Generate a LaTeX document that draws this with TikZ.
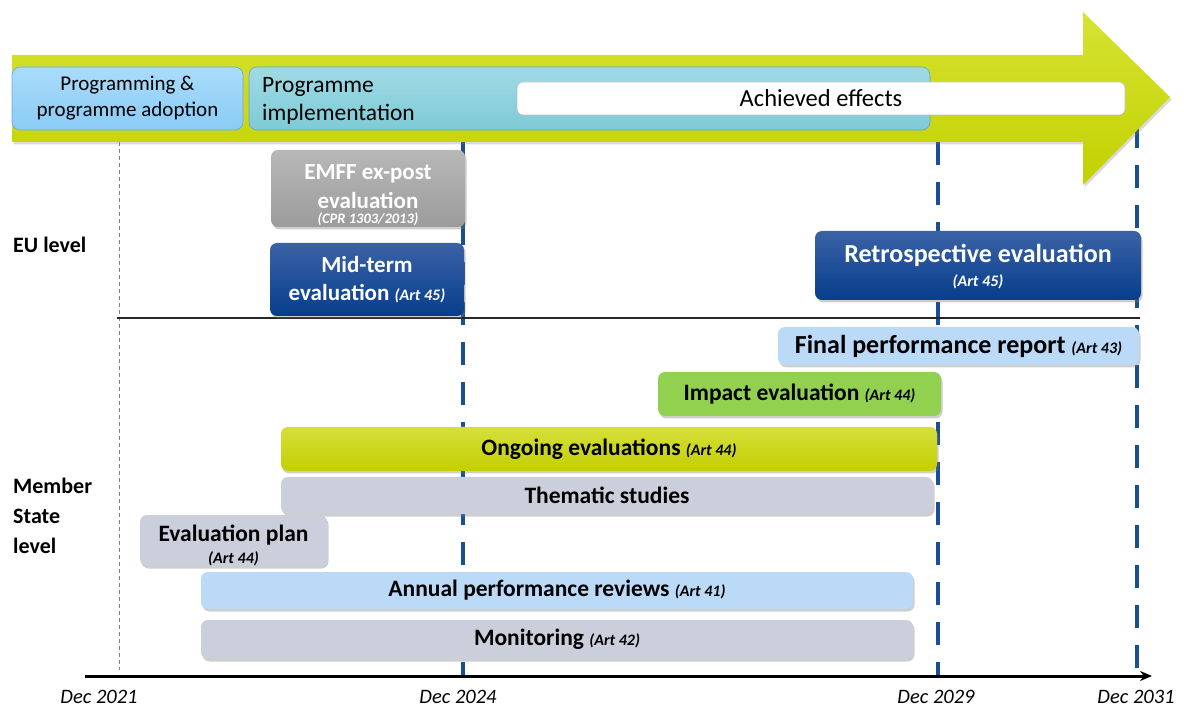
\documentclass[tikz,border=0pt]{standalone}
\usepackage{fontspec}
\setmainfont{Carlito}
\usetikzlibrary{shadows,arrows.meta}
\definecolor{dashblue}{HTML}{1B4F94}
\definecolor{darkblueT}{HTML}{3B62A6}
\definecolor{darkblueB}{HTML}{063E8C}
\definecolor{lightblue}{HTML}{BBDAF8}
\definecolor{greenbox}{HTML}{92D050}
\definecolor{ongoingT}{HTML}{D5DF3C}
\definecolor{ongoingB}{HTML}{C3CF00}
\definecolor{graybox}{HTML}{CBCFDB}
\definecolor{emffT}{HTML}{B8B8B8}
\definecolor{emffB}{HTML}{9B9B9B}
\definecolor{arrowT}{HTML}{D6E333}
\definecolor{arrowB}{HTML}{C2D100}
\definecolor{progT}{HTML}{A9DCFB}
\definecolor{progB}{HTML}{8ACBF5}
\definecolor{implT}{HTML}{A0DAE4}
\definecolor{implB}{HTML}{7DCBD7}
\tikzset{
  bar/.style={rounded corners=7pt, inner sep=0pt, align=center,
    drop shadow={shadow xshift=1.5pt, shadow yshift=-2.5pt, opacity=.35, fill=black!55}},
  bluebar/.style={bar, top color=darkblueT, bottom color=darkblueB, text=white},
  lbbar/.style={bar, fill=lightblue},
  graybar/.style={bar, fill=graybox},
  lbl/.style={font=\bfseries\fontsize{23.5}{26}\selectfont},
  art/.style={font=\bfseries\itshape\fontsize{16}{17}\selectfont},
  datelbl/.style={font=\itshape\fontsize{20.5}{22}\selectfont, inner sep=0pt},
  vdash/.style={line width=4.5pt, dashblue, dash pattern=on 23pt off 17pt},
}
\newcommand{\artl}[1]{{\bfseries\itshape\fontsize{16}{17}\selectfont #1}}
\begin{document}
\begin{tikzpicture}[x=1pt,y=-1pt]
\useasboundingbox (0,0) rectangle (1184,708);
% vertical dashed reference lines
\coordinate (v1t) at (463,142); \coordinate (v1b) at (463,676);
\coordinate (v2t) at (938,142); \coordinate (v2b) at (938,676);
\coordinate (v3t) at (1137,125); \coordinate (v3b) at (1137,676);
\draw[vdash] (v1t) -- (v1b);
\draw[vdash] (v2t) -- (v2b);
\draw[vdash] (v3t) -- (v3b);
\coordinate (g1t) at (119,142); \coordinate (g1b) at (119,670);
\draw[gray, line width=0.6pt, dash pattern=on 4pt off 3pt] (g1t) -- (g1b);
% big arrow
\path[drop shadow={shadow xshift=1.5pt, shadow yshift=-2.5pt, opacity=.3, fill=black!50},
  top color=arrowT, bottom color=arrowB]
  (12,55) -- (1083,55) -- (1083,12) -- (1170,97) -- (1083,185) -- (1083,142) -- (12,142) -- cycle;
% phase boxes
\node[rounded corners=8pt, top color=progT, bottom color=progB, draw=progB!80!blue, line width=0.6pt,
  minimum width=231pt, minimum height=63pt, inner sep=0pt, align=center,
  font=\fontsize{21}{26}\selectfont] (prog) at (127.5,98.5) {Programming \&\\programme adoption};
\node[rounded corners=8pt, top color=implT, bottom color=implB, draw=implB!80!blue, line width=0.6pt,
  minimum width=681pt, minimum height=63pt, inner sep=0pt] (impl) at (589.5,98.5) {};
\node[anchor=west, inner sep=0pt, align=left, font=\fontsize{23.5}{28}\selectfont] (implt) at (262,100.5) {Programme\\implementation};
\node[rounded corners=6pt, fill=white, draw=black!25, line width=0.6pt,
  minimum width=608pt, minimum height=33pt, inner sep=0pt,
  font=\fontsize{24.5}{26}\selectfont] (eff) at (821,98.5) {Achieved effects};
% separator and axis
\coordinate (sepL) at (117,318); \coordinate (sepR) at (1140,318);
\draw[line width=1.3pt, black!85] (sepL) -- (sepR);
\coordinate (axL) at (85,676); \coordinate (axR) at (1152,676);
\draw[line width=3pt, -{Stealth[length=12pt,width=10pt]}] (axL) -- (axR);
% level labels
\node[anchor=west, inner sep=0pt, font=\bfseries\fontsize{22}{24}\selectfont] (eu) at (13,245) {EU level};
\node[anchor=west, inner sep=0pt, align=left, font=\bfseries\fontsize{22}{30}\selectfont] (ms) at (13,516) {Member\\State\\level};
% EU boxes
\node[bar, top color=emffT, bottom color=emffB, minimum width=194pt, minimum height=77pt] (emff) at (368,188.5) {};
\node[text=white, inner sep=0pt, align=center, font=\bfseries\fontsize{23}{29}\selectfont] (emfft) at (368,187) {EMFF ex-post\\evaluation};
\node[text=white, inner sep=0pt, font=\bfseries\itshape\fontsize{14.5}{15}\selectfont] (emffa) at (368,219) {(CPR 1303/2013)};
\node[bluebar, minimum width=194pt, minimum height=73pt, font=\bfseries\fontsize{23}{28}\selectfont] (mid) at (367,279.5) {Mid-term\\evaluation \artl{(Art 45)}};
\node[bluebar, minimum width=326pt, minimum height=69pt] (retro) at (978,265.5) {};
\node[text=white, inner sep=0pt, font=\bfseries\fontsize{26}{28}\selectfont] (retrot) at (978,255) {Retrospective evaluation};
\node[text=white, inner sep=0pt, art] (retroa) at (978,282) {(Art 45)};
% Member state boxes
\node[lbbar, minimum width=361pt, minimum height=38pt, font=\bfseries\fontsize{26}{28}\selectfont] (final) at (958.5,346) {Final performance report \artl{(Art 43)}};
\node[bar, fill=greenbox, minimum width=283pt, minimum height=44pt, lbl] (impact) at (799.5,394) {Impact evaluation \artl{(Art 44)}};
\node[bar, top color=ongoingT, bottom color=ongoingB, minimum width=656pt, minimum height=44pt, lbl] (ongoing) at (609,449) {Ongoing evaluations \artl{(Art 44)}};
\node[graybar, minimum width=652pt, minimum height=37pt, lbl] (thematic) at (607,495.5) {Thematic studies};
\node[graybar, minimum width=187pt, minimum height=51pt] (plan) at (233.5,540.5) {};
\node[inner sep=0pt, lbl] (plant) at (233.5,535) {Evaluation plan};
\node[inner sep=0pt, art] (plana) at (233.5,559) {(Art 44)};
\node[lbbar, minimum width=712pt, minimum height=37pt, lbl] (annual) at (557,590.5) {Annual performance reviews \artl{(Art 41)}};
\node[graybar, minimum width=712pt, minimum height=39pt, lbl] (monitor) at (557,639.5) {Monitoring \artl{(Art 42)}};
% dates
\node[datelbl] (d2021) at (99,697) {Dec 2021};
\node[datelbl] (d2024) at (458,697) {Dec 2024};
\node[datelbl] (d2029) at (936,697) {Dec 2029};
\node[datelbl] (d2031) at (1136,697) {Dec 2031};
\end{tikzpicture}
\end{document}
